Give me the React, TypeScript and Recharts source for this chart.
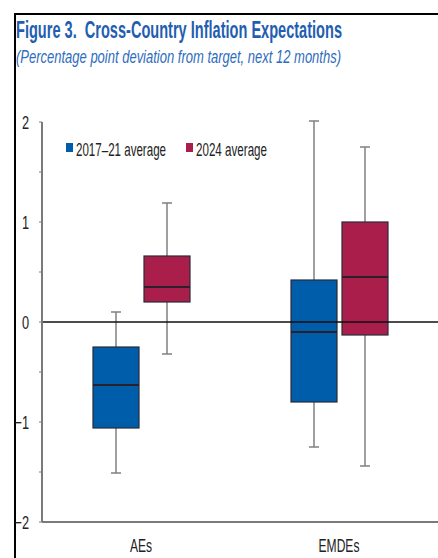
import { ComposedChart, Bar, XAxis, YAxis, ReferenceLine } from 'recharts';

const categories = ['AEs', 'EMDEs'];

// 2017–21 average
const blueMin = [-1.51, -1.25];
const blueQ1 = [-1.06, -0.8];
const blueMed = [-0.63, -0.1];
const blueQ3 = [-0.25, 0.42];
const blueMax = [0.1, 2.01];

// 2024 average
const redMin = [-0.32, -1.44];
const redQ1 = [0.2, -0.13];
const redMed = [0.35, 0.45];
const redQ3 = [0.66, 1.0];
const redMax = [1.19, 1.75];

const yTicks = [-2, -1.5, -1, -0.5, 0, 0.5, 1, 1.5, 2];
const legendLabels = ['2017–21 average', '2024 average'];

const BLUE = '#005DAA';
const RED = '#A91E4B';
const FONT = '"Liberation Sans", Arial, sans-serif';
const SQUEEZE = 0.67;

const data = categories.map((cat, i) => ({
  cat,
  blueBox: [blueQ1[i], blueQ3[i]],
  redBox: [redQ1[i], redQ3[i]],
  blue: { min: blueMin[i], q1: blueQ1[i], med: blueMed[i], q3: blueQ3[i], max: blueMax[i] },
  red: { min: redMin[i], q1: redQ1[i], med: redMed[i], q3: redQ3[i], max: redMax[i] },
}));

function BoxShape(props: any) {
  const { x, y, width, height, payload, series, fill } = props;
  const s = payload[series];
  const top = Math.min(y, y + height);
  const h = Math.abs(height);
  const k = h / (s.q3 - s.q1);
  const py = (v: number) => top + (s.q3 - v) * k;
  const cx = x + width / 2;
  const whisker = '#808080';
  return (
    <g>
      <line x1={cx} x2={cx} y1={py(s.max)} y2={top} stroke={whisker} strokeWidth={1.5} />
      <line x1={cx} x2={cx} y1={top + h} y2={py(s.min)} stroke={whisker} strokeWidth={1.5} />
      <line x1={cx - 5} x2={cx + 5} y1={py(s.max)} y2={py(s.max)} stroke={whisker} strokeWidth={1.5} />
      <line x1={cx - 5} x2={cx + 5} y1={py(s.min)} y2={py(s.min)} stroke={whisker} strokeWidth={1.5} />
      <rect x={x} y={top} width={width} height={h} fill={fill} stroke="#2a2a3a" strokeWidth={1.2} />
      <line x1={x} x2={x + width} y1={py(s.med)} y2={py(s.med)} stroke="#2a1f2a" strokeWidth={2} />
    </g>
  );
}

function YTick(props: any) {
  const { x, y, payload } = props;
  const v = payload.value;
  if (!Number.isInteger(v)) return null;
  const label = String(v).replace('-', '−');
  return (
    <g transform={`translate(${x},${y})`}>
      <text transform={`scale(${SQUEEZE},1)`} textAnchor="end" dy="0.36em" fontSize={19} fontFamily={FONT} fill="#222">
        {label}
      </text>
    </g>
  );
}

function XTick(props: any) {
  const { x, y, payload } = props;
  return (
    <g transform={`translate(${x},${y})`}>
      <text transform={`scale(${SQUEEZE},1)`} textAnchor="middle" dy="0.71em" fontSize={18} fontFamily={FONT} fill="#222">
        {payload.value}
      </text>
    </g>
  );
}

// squeezed text with its final width pinned
function Narrow(props: any) {
  const { x, y, width, children, ...rest } = props;
  return (
    <g transform={`translate(${x},${y}) scale(${SQUEEZE},1)`}>
      <text x={0} y={0} textLength={width / SQUEEZE} lengthAdjust="spacingAndGlyphs" fontFamily={FONT} {...rest}>
        {children}
      </text>
    </g>
  );
}

export default function App() {
  return (
    <div style={{ position: 'absolute', left: 0, top: 0, width: 438, height: 558, background: '#fff', overflow: 'hidden' }}>
      {/* frame */}
      <div style={{ position: 'absolute', left: 14, top: 13, right: -4, bottom: -4, borderLeft: '2px solid #000', borderTop: '2px solid #000' }} />
      <div style={{ position: 'absolute', left: 0, top: 0 }}>
        <ComposedChart
          width={438}
          height={558}
          data={data}
          margin={{ top: 122, right: 0, left: 0, bottom: 0 }}
          barSize={46}
          barGap={5}
        >
          <XAxis
            dataKey="cat"
            height={36}
            axisLine={{ stroke: '#7a7a7a', strokeWidth: 2 }}
            tickLine={false}
            tickMargin={11}
            tick={<XTick />}
          />
          <YAxis
            type="number"
            domain={[-2, 2]}
            ticks={yTicks}
            width={42}
            interval={0}
            axisLine={{ stroke: '#7a7a7a', strokeWidth: 2 }}
            tickLine={{ stroke: '#7a7a7a' }}
            tickSize={3}
            tickMargin={10}
            tick={<YTick />}
          />
          <Bar
            dataKey="blueBox"
            fill={BLUE}
            isAnimationActive={false}
            shape={(p: any) => <BoxShape {...p} series="blue" fill={BLUE} />}
          />
          <Bar
            dataKey="redBox"
            fill={RED}
            isAnimationActive={false}
            shape={(p: any) => <BoxShape {...p} series="red" fill={RED} />}
          />
          <ReferenceLine y={0} stroke="#111" strokeWidth={1.5} />
        </ComposedChart>
      </div>
      {/* titles and legend */}
      <svg width={438} height={170} style={{ position: 'absolute', left: 0, top: 0 }}>
        <Narrow x={16} y={38} width={326} fontSize={23} fontWeight="bold" fill="#1F5EB0">
          {'Figure 3.\u00a0\u00a0Cross-Country Inflation Expectations'}
        </Narrow>
        <Narrow x={16} y={63} width={325} fontSize={18} fontStyle="italic" fill="#2E6DBD">
          (Percentage point deviation from target, next 12 months)
        </Narrow>
        <rect x={66} y={143} width={7} height={9} fill={BLUE} />
        <Narrow x={76} y={156} width={90} fontSize={18} fill="#222">
          {legendLabels[0]}
        </Narrow>
        <rect x={186} y={143} width={7} height={9} fill={RED} />
        <Narrow x={196} y={156} width={71} fontSize={18} fill="#222">
          {legendLabels[1]}
        </Narrow>
      </svg>
    </div>
  );
}
